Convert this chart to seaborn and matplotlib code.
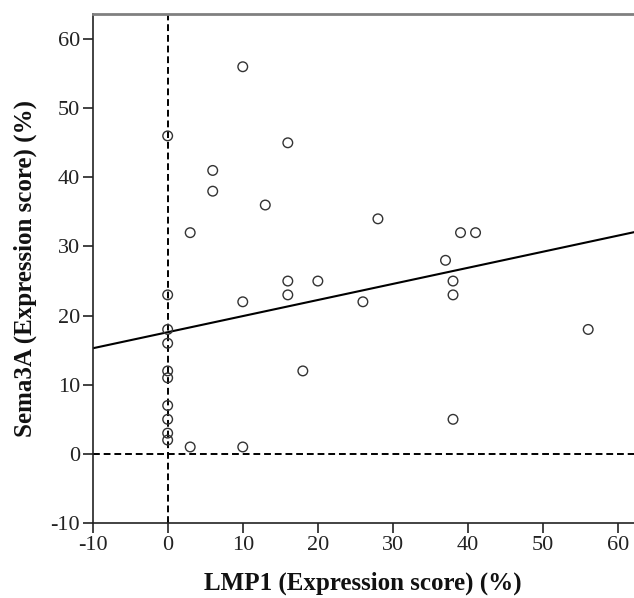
import pandas as pd
import matplotlib
matplotlib.use('Agg')
import matplotlib.pyplot as plt
import seaborn as sns

# LMP1 vs Sema3A expression scores
lmp1 = [0, 0, 0, 0, 0, 0, 0, 0, 0, 0,
        3, 3, 6, 6, 10, 10, 10, 13, 16, 16, 16,
        18, 20, 26, 28, 37, 38, 38, 38, 39, 41, 56]
sema3a = [46, 23, 18, 16, 12, 11, 7, 5, 3, 2,
          32, 1, 41, 38, 56, 22, 1, 36, 45, 25, 23,
          12, 25, 22, 34, 28, 25, 23, 5, 32, 32, 18]

# fit line as shown in the figure (fitted on the original data)
fit_intercept = 17.6
fit_slope = 0.233

x_ticks = [-10, 0, 10, 20, 30, 40, 50, 60]
y_ticks = [-10, 0, 10, 20, 30, 40, 50, 60]

df = pd.DataFrame({'LMP1': lmp1, 'Sema3A': sema3a})

sns.set_style("ticks")
plt.rcParams['font.family'] = ['Liberation Serif', 'DejaVu Serif']
plt.rcParams['axes.unicode_minus'] = False

fig = plt.figure(figsize=(6.34, 5.98), dpi=100)
ax = fig.add_axes([0.146, 0.1254, 0.854, 0.852])

# reference lines at zero
ax.axvline(0, color='black', linestyle=(0, (3.5, 2)), linewidth=1.4, zorder=1)
ax.axhline(0, color='black', linestyle=(0, (3.5, 2)), linewidth=1.4, zorder=1)

sns.scatterplot(x='LMP1', y='Sema3A', data=df, ax=ax, s=48, marker='o',
                facecolors='none', edgecolor='#333333', linewidth=1.0, zorder=3)

# fit line
ax.axline((0, fit_intercept), slope=fit_slope, color='black', linewidth=1.5, zorder=2)

ax.set_xlim(-10, 62.1)
ax.set_ylim(-10, 63.7)
ax.set_xticks(x_ticks)
ax.set_yticks(y_ticks)
ax.tick_params(labelsize=16, length=7, width=1.2, color='#222222',
               labelcolor='#222222', direction='out', pad=2)

ax.set_xlabel('LMP1 (Expression score) (%)', fontsize=18, fontweight='bold',
              labelpad=12, color='#111111')
ax.set_ylabel('Sema3A (Expression score) (%)', fontsize=18, fontweight='bold',
              labelpad=10, color='#111111')

for side in ['left', 'bottom']:
    ax.spines[side].set_color('#222222')
    ax.spines[side].set_linewidth(1.2)
ax.spines['top'].set_color('#808080')
ax.spines['top'].set_linewidth(2)
ax.spines['right'].set_visible(False)

plt.savefig('out.png', dpi=100)
